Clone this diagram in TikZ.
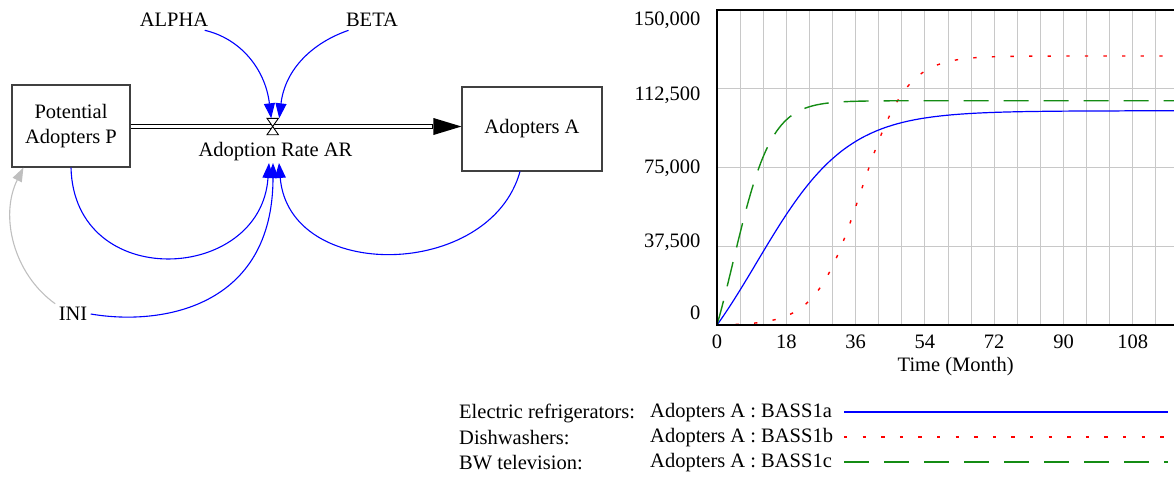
\documentclass[tikz,border=0pt]{standalone}
\usepackage{fontspec}
\setmainfont{Liberation Serif}
\usetikzlibrary{arrows.meta}

\definecolor{simblue}{RGB}{0,0,255}
\definecolor{simred}{RGB}{255,0,0}
\definecolor{simgreen}{RGB}{20,140,20}
\definecolor{gridgray}{RGB}{200,200,200}

\tikzset{
  stock/.style={draw=black!75, line width=1.1pt, inner sep=0pt, align=center,
    font=\fontsize{20.5}{25}\selectfont},
  valve/.style={minimum width=11pt, minimum height=16pt, inner sep=0pt},
  link/.style={simblue, line width=1.1pt, -{Triangle[length=15pt,width=11pt]}},
  initlink/.style={black!25, line width=1.1pt, -{Triangle[length=14pt,width=10pt]}},
  pipe/.style={line width=5.6pt, -{Triangle[length=28pt,width=17pt,line width=0pt]},
    postaction={draw=white, line width=2.8pt, -, shorten <=0.6pt, shorten >=29pt}},
  gridline/.style={gridgray, line width=0.9pt},
  axisframe/.style={line width=2.4pt},
  runA/.style={simblue, line width=1.2pt},
  runB/.style={simred, line width=1.4pt, dash pattern=on 3.3pt off 15.3pt},
  runC/.style={simgreen, line width=1.4pt, dash pattern=on 25pt off 15pt},
}

\begin{document}
\begin{tikzpicture}[x=1pt, y=1pt, font=\fontsize{20.5}{24}\selectfont]
  \useasboundingbox (0,0) rectangle (1174,-477);

  % stock and flow structure
  \node[stock, minimum width=118pt, minimum height=82pt] (P) at (71,-126) {Potential\\Adopters P};
  \node[stock, minimum width=140pt, minimum height=84pt] (A) at (532,-129) {Adopters A};
  \node[valve] (AR) at (272.7,-126.5) {};
  \node[inner sep=2pt] (rate) at (275.5,-151.5) {Adoption Rate AR};
  \node (alpha) at (174,-20) {ALPHA};
  \node (beta) at (372,-20) {BETA};
  \node (ini) at (73,-314) {INI};

  \draw[pipe] (P.east |- AR) -- (A.west |- AR);
  \draw[fill=white, line width=0.9pt] (AR.north west) -- (AR.north east)
    -- (AR.south west) -- (AR.south east) -- cycle;

  \draw[link] ([xshift=-7pt]alpha.south east) .. controls +(35,-8) and +(-6,50) .. ([xshift=-1.5pt]AR.north);
  \draw[link] ([xshift=6pt]beta.south west) .. controls +(-35,-12) and +(6,50) .. ([xshift=6.5pt]AR.north);
  \draw[link] (P.south) .. controls +(3,-125) and +(-8,-120) .. ([xshift=-6.5pt]rate.south);
  \draw[link] (ini.east) .. controls +(70,-12) and +(0,-145) .. ([xshift=-2.5pt]rate.south);
  \draw[link] ([xshift=-12pt]A.south) .. controls +(-30,-108) and +(10,-120) .. ([xshift=3.5pt]rate.south);
  \draw[initlink] (ini.north west) .. controls +(-42,30) and +(-24,-48) .. ([xshift=12pt]P.south west);

  % graph: Adopters A over time
  \begin{scope}[shift={(717,-325)}, x=3.85pt, y=2.1pt]
    \foreach \t in {6,12,...,114}
      \draw[gridline] (\t,0) -- (\t,150);
    \foreach \v in {37.5,75,112.5}
      \draw[gridline] (0,\v) -- (118.7,\v);

    \draw[runA] plot[domain=0:118.7, samples=200]
      (\x, {102*(1-exp(-0.085*\x))/(1+2.4*exp(-0.085*\x))});
    \draw[runB] plot[domain=0:118.7, samples=200]
      (\x, {128.1*(1-exp(-0.1703*\x))/(1+exp(6.375-0.1703*\x))});
    \draw[runC] plot[domain=0:118.7, samples=200]
      (\x, {106.8*(1-exp(-0.2*\x))/(1+2.333*exp(-0.2*\x))});

    \draw[axisframe] (118.7,150) -- (0,150) -- (0,0) -- (118.7,0);

    \foreach \t in {0,18,...,108}
      \node at (\t,-8) {\t};
    \foreach \ly/\lab in {145.2/{150,000}, 109.5/{112,500}, 74.8/{75,000}, 39.5/{37,500}, 5.7/0}
      \node[anchor=east] at (-3.4,\ly) {\lab};
    \node at (62,-20) {Time (Month)};
  \end{scope}

  % legend
  \foreach \ly/\name/\run/\sty in {412/Electric refrigerators:/BASS1a/runA,
      437/Dishwashers:/BASS1b/runB, 462/BW television:/BASS1c/runC} {
    \node[anchor=west, inner sep=0pt] (name\run) at (459,-\ly-1) {\name};
    \node[anchor=west, inner sep=0pt] (key\run) at (650,-\ly-1) {Adopters A : \run};
    \draw[\sty] (844,-\ly) -- (1168,-\ly);
  }
\end{tikzpicture}
\end{document}
